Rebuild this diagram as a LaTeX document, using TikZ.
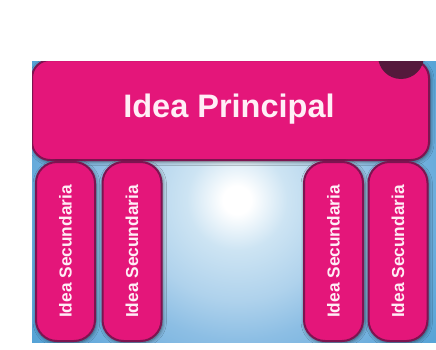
\documentclass[tikz,border=0pt]{standalone}
\usepackage{fontspec}
\setmainfont{Liberation Sans}
\usetikzlibrary{shadows.blur}
\definecolor{pinkbox}{RGB}{228,22,122}
\definecolor{pinkedge}{RGB}{125,20,80}
\definecolor{skyA}{RGB}{205,228,243}
\definecolor{skyB}{RGB}{175,210,236}
\definecolor{skyC}{RGB}{140,190,228}
\definecolor{skyD}{RGB}{105,172,220}
\definecolor{skyE}{RGB}{80,160,212}
\definecolor{darkdot}{RGB}{85,25,60}
\definecolor{txtwhite}{RGB}{255,238,246}
\pgfdeclareradialshading{skyshade}{\pgfpoint{0cm}{0cm}}{color(0bp)=(white); color(14bp)=(white); color(50bp)=(skyA); color(100bp)=(skyB); color(140bp)=(skyC); color(200bp)=(skyD); color(260bp)=(skyE)}
\tikzset{
  boxbase/.style={draw=pinkedge, line width=2pt, fill=pinkbox, inner sep=0pt,
    blur shadow={shadow xshift=1pt, shadow yshift=-1.5pt, shadow blur radius=4pt, shadow opacity=60},
    text=txtwhite, font=\bfseries},
  mainbox/.style={boxbase, rounded corners=18pt, minimum width=397pt, minimum height=100pt},
  secbox/.style={boxbase, rounded corners=21pt, rotate=90, minimum width=179pt, minimum height=59pt, font=\bfseries\fontsize{17.3}{20}\selectfont},
}
\begin{document}
\begin{tikzpicture}[x=1pt,y=1pt]
\useasboundingbox (0,0) rectangle (436,349);
\begin{scope}
\clip (32,7) rectangle (436,288);
\pgftext[at=\pgfpoint{237pt}{149pt}]{\pgfuseshading{skyshade}}
\node[mainbox] (main) at (230.5,239) {};
\node[text=txtwhite, font=\bfseries\fontsize{32.5}{38}\selectfont] (maintext) at (229,240) {Idea Principal};
\fill[darkdot] (401,293) circle (23);
\node[secbox] (s1) at (65.5,97.5) {Idea Secundaria};
\node[secbox] (s2) at (132,97.5) {Idea Secundaria};
\node[secbox] (s3) at (333.5,97.5) {Idea Secundaria};
\node[secbox] (s4) at (398,97.5) {Idea Secundaria};
\end{scope}
\end{tikzpicture}
\end{document}
